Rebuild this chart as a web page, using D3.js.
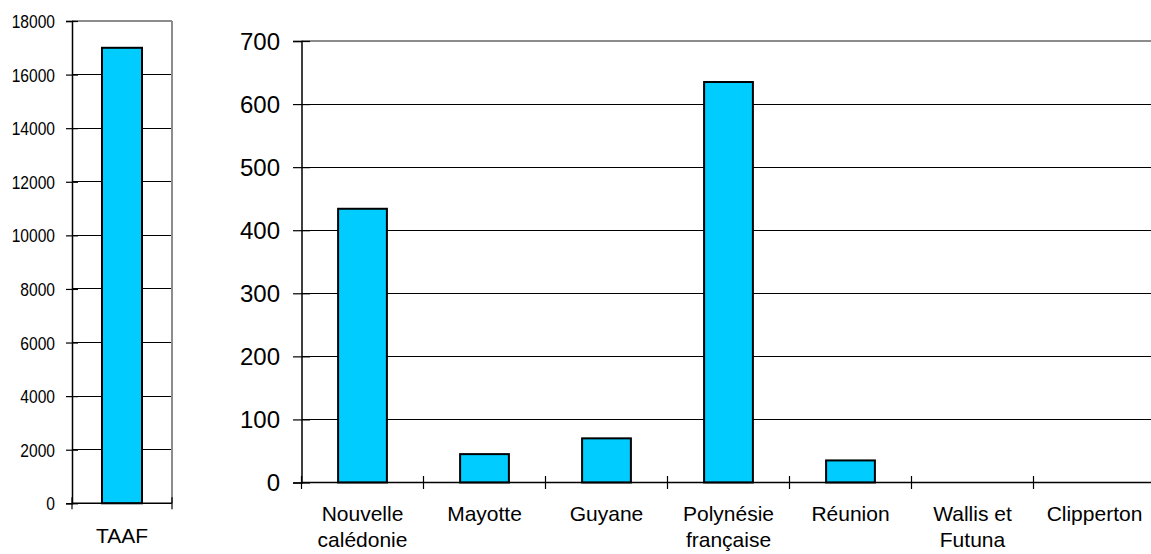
<!DOCTYPE html>
<html>
<head>
<meta charset="utf-8">
<script src="https://cdn.jsdelivr.net/npm/d3@7"></script>
<style>
  html, body { margin: 0; padding: 0; background: #fff; }
  svg { display: block; }
  text { font-family: "Liberation Sans", Arial, sans-serif; fill: #000; }
</style>
</head>
<body>
<svg id="chart" width="1151" height="554"></svg>
<script>
// Terres australes (separate scale)
const taafCategories = ["TAAF"];
const taafValues = [17000];
const taafTicks = [0, 2000, 4000, 6000, 8000, 10000, 12000, 14000, 16000, 18000];

// Other overseas territories
const categories = ["Nouvelle calédonie", "Mayotte", "Guyane", "Polynésie française", "Réunion", "Wallis et Futuna", "Clipperton"];
const categoryLines = [["Nouvelle", "calédonie"], ["Mayotte"], ["Guyane"], ["Polynésie", "française"], ["Réunion"], ["Wallis et", "Futuna"], ["Clipperton"]];
const values = [434, 45, 70, 635, 35, 0, 0];
const valueTicks = [0, 100, 200, 300, 400, 500, 600, 700];

const svg = d3.select("#chart");
const BAR_FILL = "#00CCFF";
const BORDER = "#8c8c8c";

function drawPanel(opts) {
  const { left, right, top, bottom, cats, vals, ticks, maxV, tickFont, labelGap, tickHalf, xTickHalf, narrow, labelLines, labelFont, labelBase, lineStep, axisWidth } = opts;
  const g = svg.append("g");
  const y = d3.scaleLinear().domain([0, maxV]).range([bottom, top]);
  const x = d3.scaleBand().domain(cats).range([left, right]);
  const clipRight = Math.min(right, 1151);

  // gridlines
  g.selectAll("line.grid").data(ticks.filter(t => t > 0 && t < maxV)).join("line")
    .attr("x1", left).attr("x2", clipRight)
    .attr("y1", d => y(d)).attr("y2", d => y(d))
    .attr("stroke", "#000").attr("stroke-width", 1).attr("shape-rendering", "crispEdges");

  // plot border (top and right)
  g.append("line").attr("x1", left).attr("x2", clipRight).attr("y1", top).attr("y2", top)
    .attr("stroke", BORDER).attr("stroke-width", 2);
  if (right <= 1151) {
    g.append("line").attr("x1", right).attr("x2", right).attr("y1", top).attr("y2", bottom)
      .attr("stroke", BORDER).attr("stroke-width", 2);
  }

  // bars
  const bw = x.bandwidth() * 0.4;
  g.selectAll("rect.bar").data(vals).join("rect")
    .attr("x", (d, i) => x(cats[i]) + (x.bandwidth() - bw) / 2)
    .attr("y", d => y(d))
    .attr("width", bw)
    .attr("height", d => y(0) - y(d))
    .attr("fill", BAR_FILL)
    .attr("stroke", "#000").attr("stroke-width", 2)
    .style("display", d => d > 0 ? null : "none");

  // y axis
  const yAxis = d3.axisLeft(y).tickValues(ticks).tickSize(tickHalf).tickPadding(labelGap).tickFormat(d3.format("d"));
  const ya = g.append("g").attr("transform", `translate(${left},0)`).call(yAxis);
  ya.select(".domain").attr("stroke", "#000").attr("stroke-width", axisWidth);
  ya.selectAll(".tick line").attr("x1", tickHalf).attr("stroke", "#000").attr("stroke-width", 1.2);
  ya.selectAll(".tick text")
    .attr("font-family", "Liberation Sans, Arial, sans-serif")
    .attr("font-size", tickFont).attr("fill", "#000").attr("dy", "0.34em");
  if (narrow) {
    ya.selectAll(".tick text").each(function () {
      const w = this.getComputedTextLength();
      d3.select(this).attr("textLength", w * narrow).attr("lengthAdjust", "spacingAndGlyphs");
    });
  }

  // x axis
  g.append("line").attr("x1", left).attr("x2", clipRight).attr("y1", y(0)).attr("y2", y(0))
    .attr("stroke", "#000").attr("stroke-width", axisWidth);
  const bounds = cats.map(c => x(c)).concat([right]).filter(v => v <= 1151);
  g.selectAll("line.xtick").data(bounds).join("line")
    .attr("x1", d => d).attr("x2", d => d)
    .attr("y1", y(0) - xTickHalf).attr("y2", y(0) + xTickHalf)
    .attr("stroke", "#000").attr("stroke-width", 1.2);

  // category labels
  cats.forEach((c, i) => {
    const t = g.append("text")
      .attr("x", x(c) + x.bandwidth() / 2)
      .attr("y", labelBase)
      .attr("text-anchor", "middle")
      .attr("font-size", labelFont);
    labelLines[i].forEach((ln, j) => {
      t.append("tspan").attr("x", x(c) + x.bandwidth() / 2).attr("y", labelBase + j * lineStep).text(ln);
    });
  });
}

drawPanel({
  left: 72, right: 172, top: 21, bottom: 503.3,
  cats: taafCategories, vals: taafValues, ticks: taafTicks, maxV: 18000,
  tickFont: 19, labelGap: 11, tickHalf: 6, xTickHalf: 6, narrow: 0.82,
  labelLines: [["TAAF"]], labelFont: 21, labelBase: 542.7, lineStep: 26, axisWidth: 1.5
});

drawPanel({
  left: 301.5, right: 301.5 + 7 * 122, top: 41, bottom: 482.5,
  cats: categories, vals: values, ticks: valueTicks, maxV: 700,
  tickFont: 24, labelGap: 13, tickHalf: 8.5, xTickHalf: 6.5, narrow: 0,
  labelLines: categoryLines, labelFont: 21, labelBase: 521, lineStep: 26, axisWidth: 1.5
});
</script>
</body>
</html>
